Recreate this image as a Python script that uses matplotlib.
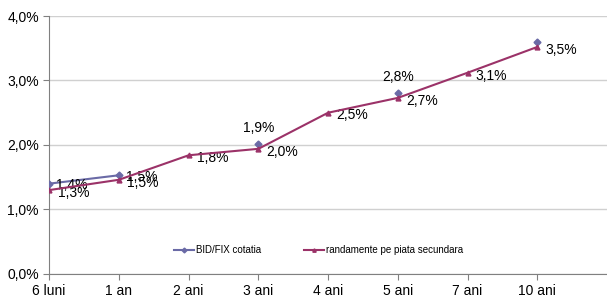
import numpy as np
import matplotlib.pyplot as plt

plt.rcParams['font.family'] = ['Liberation Sans', 'DejaVu Sans']

categories = ['6 luni', '1 an', '2 ani', '3 ani', '4 ani', '5 ani', '7 ani', '10 ani']
bid_fix = [1.40, 1.53, np.nan, 2.02, np.nan, 2.81, np.nan, 3.60]
randamente = [1.30, 1.46, 1.84, 1.94, 2.50, 2.73, 3.12, 3.52]
bid_labels = ['1,4%', '1,5%', '', '1,9%', '', '2,8%', '', '']
rand_labels = ['1,3%', '1,5%', '1,8%', '2,0%', '2,5%', '2,7%', '3,1%', '3,5%']

blue = '#6A6AA6'
red = '#9B3268'

fig = plt.figure(figsize=(6.07, 3.02), dpi=100)
ax = fig.add_axes([0.081, 0.093, 0.919, 0.854])

x = np.arange(len(categories))
ax.plot(x, bid_fix, color=blue, lw=1.5, marker='D', ms=3.5, label='BID/FIX cotatia', zorder=3)
ax.plot(x, randamente, color=red, lw=1.5, marker='^', ms=3.5, label='randamente pe piata secundara', zorder=4)

# etichete date
for i, (v, t) in enumerate(zip(bid_fix, bid_labels)):
    if not t:
        continue
    if i in (3, 5):
        ax.annotate(t, (i, v), xytext=(0, 6), textcoords='offset points',
                    ha='center', va='bottom', fontsize=10)
    else:
        ax.annotate(t, (i, v), xytext=(5, -1), textcoords='offset points',
                    ha='left', va='center', fontsize=10)
for i, (v, t) in enumerate(zip(randamente, rand_labels)):
    ax.annotate(t, (i, v), xytext=(6, -2), textcoords='offset points',
                ha='left', va='center', fontsize=10)

ax.set_xlim(0, 8)
ax.set_ylim(0, 4)
ax.set_xticks(x)
ax.set_xticklabels(categories, fontsize=10)
ax.set_yticks([0, 1, 2, 3, 4])
ax.set_yticklabels(['0,0%', '1,0%', '2,0%', '3,0%', '4,0%'], fontsize=10)
ax.yaxis.grid(True, color='#D0D0D0', lw=1)
ax.set_axisbelow(True)
for s in ['top', 'right']:
    ax.spines[s].set_visible(False)
for s in ['left', 'bottom']:
    ax.spines[s].set_color('#808080')
ax.tick_params(colors='#808080', labelcolor='black', length=4)

ax.legend(loc='center', bbox_to_anchor=(0.483, 0.093), ncol=2, frameon=False,
          fontsize=7, handlelength=2, handletextpad=0.2, columnspacing=4.5,
          markerscale=0.7)

plt.savefig('out.png', dpi=100)
